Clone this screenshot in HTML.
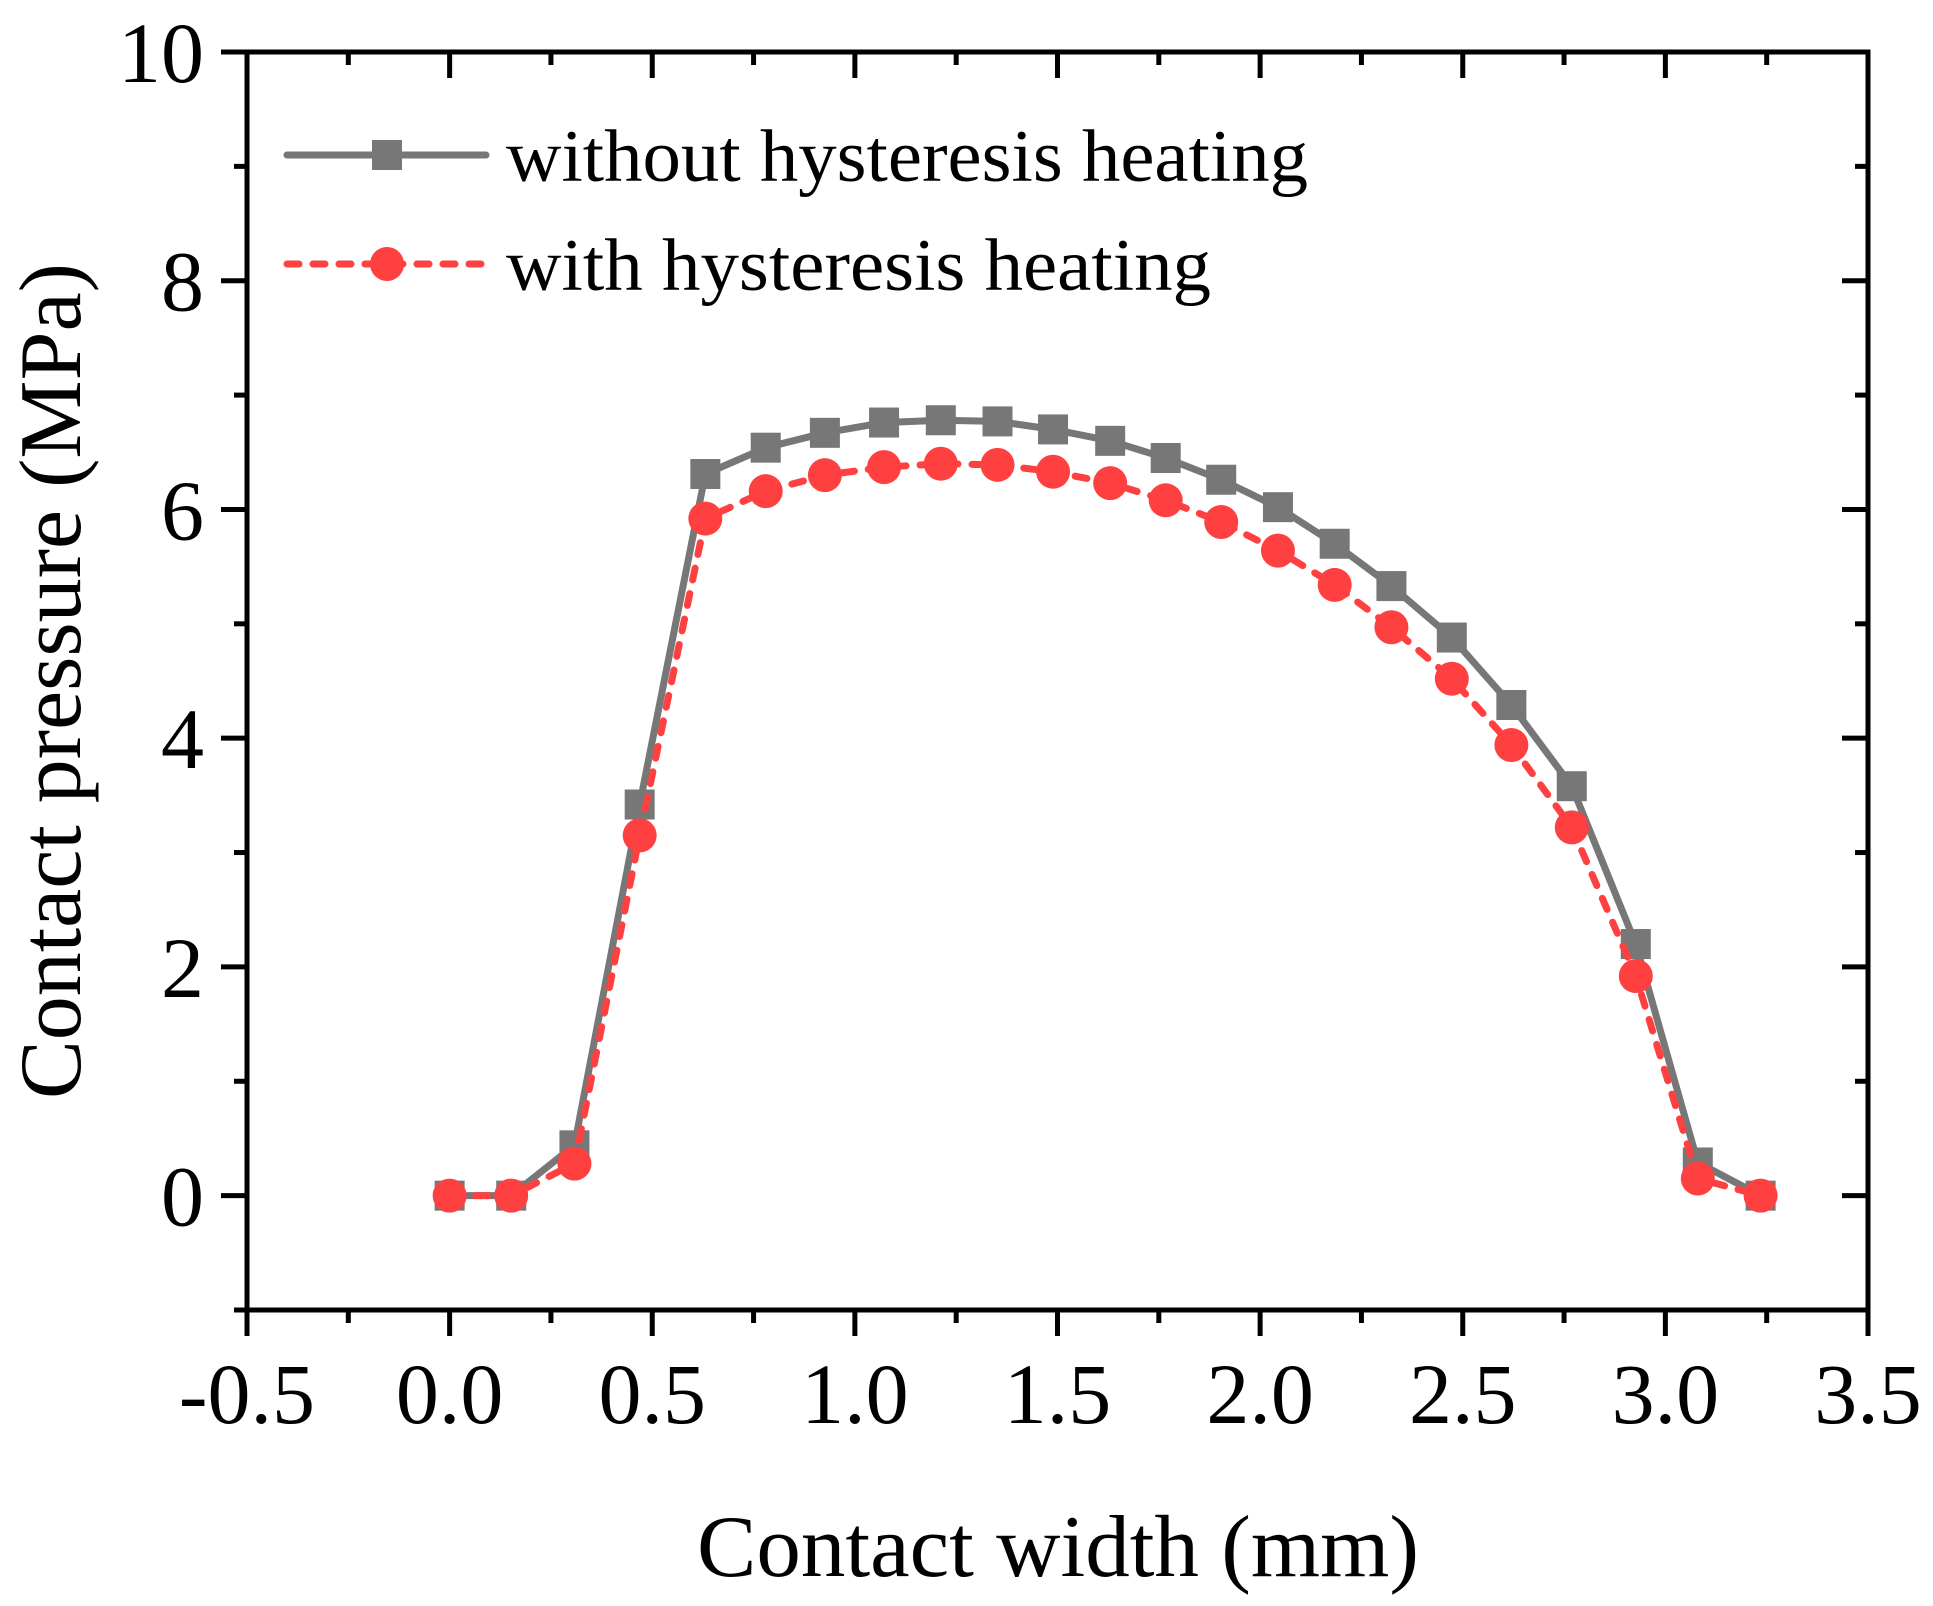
<!DOCTYPE html>
<html><head><meta charset="utf-8"><style>html,body{margin:0;padding:0;background:#fff}svg{display:block}</style></head>
<body>
<svg id="chart" width="1933" height="1606" viewBox="0 0 1933 1606" xmlns="http://www.w3.org/2000/svg" font-family="'Liberation Serif', serif">
<g id="axes"></g>
<g id="series"></g>
<g id="legend">
  <line x1="287" y1="155" x2="486" y2="155" stroke="#777" stroke-width="7" stroke-linecap="round"/>
  <rect x="372" y="140" width="30" height="30" fill="#777"/>
  <text x="506" y="181" font-size="74" textLength="802" lengthAdjust="spacingAndGlyphs">without hysteresis heating</text>
  <line x1="287" y1="264" x2="486" y2="264" stroke="#ff4040" stroke-width="7" stroke-dasharray="12 14" stroke-linecap="round"/>
  <circle cx="387" cy="264" r="17" fill="#ff4040"/>
  <text x="506" y="290" font-size="74" textLength="705" lengthAdjust="spacingAndGlyphs">with hysteresis heating</text>
</g>
<text x="1058" y="1576" font-size="88" text-anchor="middle" textLength="722" lengthAdjust="spacingAndGlyphs">Contact width (mm)</text>
<text transform="translate(80,681) rotate(-90)" font-size="88" text-anchor="middle" textLength="836" lengthAdjust="spacingAndGlyphs">Contact pressure (MPa)</text>
</svg>
<script>
const xValues = [0, 0.152, 0.308, 0.469, 0.631, 0.780, 0.926, 1.072, 1.212, 1.352, 1.489, 1.630, 1.767, 1.904, 2.044, 2.184, 2.324, 2.473, 2.620, 2.769, 2.927, 3.080, 3.235];
const withoutHeating = [0, 0, 0.44, 3.42, 6.31, 6.54, 6.67, 6.76, 6.78, 6.77, 6.70, 6.60, 6.45, 6.26, 6.02, 5.70, 5.33, 4.88, 4.29, 3.58, 2.20, 0.29, 0];
const withHeating = [0, 0, 0.28, 3.15, 5.92, 6.16, 6.30, 6.37, 6.40, 6.39, 6.33, 6.23, 6.08, 5.89, 5.64, 5.34, 4.97, 4.52, 3.94, 3.22, 1.92, 0.15, 0];
const xTicks = [-0.5, 0.0, 0.5, 1.0, 1.5, 2.0, 2.5, 3.0, 3.5];
const xTickLabels = ["-0.5", "0.0", "0.5", "1.0", "1.5", "2.0", "2.5", "3.0", "3.5"];
const yTicks = [0, 2, 4, 6, 8, 10];
const yTickLabels = ["0", "2", "4", "6", "8", "10"];

const NS = "http://www.w3.org/2000/svg";
const L = 247, R = 1868, T = 52, B = 1310;
const xMin = -0.5, xMax = 3.5, yMin = -1, yMax = 10;
function sx(v){ return L + (v - xMin) / (xMax - xMin) * (R - L); }
function sy(v){ return B - (v - yMin) / (yMax - yMin) * (B - T); }
function mk(tag, attrs, parent){ const e = document.createElementNS(NS, tag); for (const k in attrs) e.setAttribute(k, attrs[k]); parent.appendChild(e); return e; }

const axes = document.getElementById('axes');
const frame = mk('rect', {x: L, y: T, width: R - L, height: B - T, fill: 'none', stroke: '#000', 'stroke-width': 5}, axes);



xTicks.forEach((t, i) => {
  const x = sx(t);
  mk('line', {x1: x, y1: B, x2: x, y2: B + 26, stroke: '#000', 'stroke-width': 5}, axes);
  mk('line', {x1: x, y1: T, x2: x, y2: T + 26, stroke: '#000', 'stroke-width': 5}, axes);
  if (i < xTicks.length - 1) {
    const xm = sx(t + 0.25);
    mk('line', {x1: xm, y1: B, x2: xm, y2: B + 13, stroke: '#000', 'stroke-width': 5}, axes);
    mk('line', {x1: xm, y1: T, x2: xm, y2: T + 13, stroke: '#000', 'stroke-width': 5}, axes);
  }
  const lab = mk('text', {x: x, y: 1423, 'font-size': 86, 'text-anchor': 'middle'}, axes);
  lab.textContent = xTickLabels[i];
  
  
});
yTicks.forEach((t, i) => {
  const y = sy(t);
  mk('line', {x1: L - 26, y1: y, x2: L, y2: y, stroke: '#000', 'stroke-width': 5}, axes);
  mk('line', {x1: R - 26, y1: y, x2: R, y2: y, stroke: '#000', 'stroke-width': 5}, axes);
  const lab = mk('text', {x: 204, y: y + 30, 'font-size': 86, 'text-anchor': 'end'}, axes);
  lab.textContent = yTickLabels[i];
  
  
});
[-1, 1, 3, 5, 7, 9].forEach(t => {
  const y = sy(t);
  mk('line', {x1: L - 13, y1: y, x2: L, y2: y, stroke: '#000', 'stroke-width': 5}, axes);
  mk('line', {x1: R - 13, y1: y, x2: R, y2: y, stroke: '#000', 'stroke-width': 5}, axes);
});

const series = document.getElementById('series');
const ptsA = xValues.map((x, i) => sx(x) + ',' + sy(withoutHeating[i])).join(' ');
const lineA = mk('polyline', {points: ptsA, fill: 'none', stroke: '#777', 'stroke-width': 7, 'stroke-linejoin': 'round'}, series);


xValues.forEach((x, i) => {
  const r = mk('rect', {x: sx(x) - 15, y: sy(withoutHeating[i]) - 15, width: 30, height: 30, fill: '#777'}, series);
  
  
});
const ptsB = xValues.map((x, i) => sx(x) + ',' + sy(withHeating[i])).join(' ');
const lineB = mk('polyline', {points: ptsB, fill: 'none', stroke: '#ff4040', 'stroke-width': 7, 'stroke-dasharray': '12 14', 'stroke-linecap': 'round'}, series);


xValues.forEach((x, i) => {
  const c = mk('circle', {cx: sx(x), cy: sy(withHeating[i]), r: 17, fill: '#ff4040'}, series);
  
  
});
</script>
</body></html>
